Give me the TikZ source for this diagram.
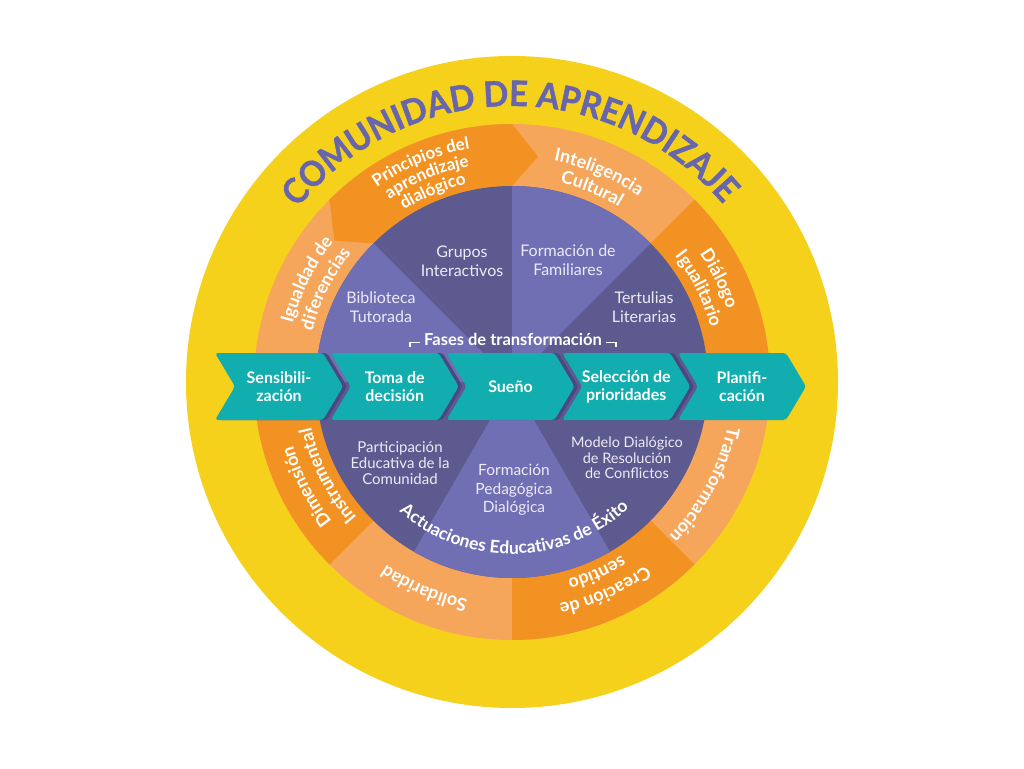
\documentclass[tikz,border=0pt]{standalone}
\usepackage{fontspec}
\setmainfont{Lato}
\newfontfamily\titlefont{Lato}[FakeStretch=0.93, BoldFeatures={FakeBold=1.2}]
\usetikzlibrary{decorations.text}
\definecolor{cyellow}{HTML}{F5D11C}
\definecolor{corD}{HTML}{F29223}
\definecolor{corL}{HTML}{F5A65A}
\definecolor{cpuD}{HTML}{5C5A8F}
\definecolor{cpuL}{HTML}{716FB3}
\definecolor{cteal}{HTML}{12ADAE}
\definecolor{ctitle}{HTML}{6765AE}
\definecolor{cinner}{HTML}{ECEAF6}
\definecolor{cshadow}{HTML}{4B4880}
\tikzset{
  innertxt/.style={text=cinner, align=center, inner sep=0pt, font=\fontsize{16}{19}\selectfont},
  innersm/.style={text=cinner, align=center, inner sep=0pt},
  chevtxt/.style={text=white, align=center, inner sep=0pt, font=\fontsize{16}{18}\selectfont\bfseries},
  brk/.style={white, line width=1.6pt},
}
\newcommand\ringlbl[4][18]{%
  \path[decorate,decoration={text along path,
     text={|\fontsize{#1}{#1}\selectfont\bfseries|#4},
     text align=center, text color=white}]
     ({#2+50}:#3) arc[start angle={#2+50}, end angle={#2-50}, radius=#3];}
\newcommand\chevshape[2]{%
  \fill[#2, rounded corners=3pt] (#1,29) -- ({#1+108},29) -- ({#1+128},-4.5) -- ({#1+108},-38) -- (#1,-38) -- ({#1+20},-4.5) -- cycle;}
\begin{document}
\begin{tikzpicture}[x=1pt,y=1pt]
\useasboundingbox (-512,-386) rectangle (512,382);
\fill[white] (-512,-386) rectangle (512,382);
% outer rings
\fill[cyellow] (0,0) circle[radius=326];
\fill[corL] (0,0) circle[radius=258];
\fill[corD] (0,0) -- (45:258) arc[start angle=45, end angle=0, radius=258] -- cycle;
\fill[corD] (0,0) -- (-45:258) arc[start angle=-45, end angle=-90, radius=258] -- cycle;
\fill[corD] (0,0) -- (-135:258) arc[start angle=-135, end angle=-180, radius=258] -- cycle;
\fill[corD] (135:258) arc[start angle=135, end angle=90, radius=258] -- (83.4:227) -- (90:196) -- (0,0) -- (135:196) -- (141.5:227) -- cycle;
% purple disc
\fill[cpuD] (0,0) circle[radius=196];
\fill[cpuL] (0,0) -- (180:196) arc[start angle=180, end angle=135, radius=196] -- cycle;
\fill[cpuL] (0,0) -- (90:196) arc[start angle=90, end angle=45, radius=196] -- cycle;
\fill[cpuL] (0,0) -- (240:196) arc[start angle=240, end angle=300, radius=196] -- cycle;
% chevrons
\foreach \i in {0,1,2,3}{
  \pgfmathsetmacro\L{-297+\i*115.75+4}
  \chevshape{\L}{cshadow}
}
\foreach \i in {0,...,4}{
  \pgfmathsetmacro\L{-297+\i*115.75}
  \chevshape{\L}{cteal}
}
\node[chevtxt] (c1) at (-233,-5) {Sensibili-\\zación};
\node[chevtxt] (c2) at ({-233+115.75},-5) {Toma de\\decisión};
\node[chevtxt] (c3) at ({-233+2*115.75},-5) {Sueño};
\node[chevtxt] (c4) at ({-233+3*115.75},-5) {Selección de\\prioridades};
\node[chevtxt] (c5) at ({-233+4*115.75},-5) {Planifi-\\cación};
% fases
\node[text=white, inner sep=0pt, font=\fontsize{16.5}{18}\selectfont\bfseries] (fases) at (1,43) {Fases de transformación};
\draw[brk] ([xshift=-4pt,yshift=-3.5pt]fases.west) -- ++(-10,0) -- ++(0,-4);
\draw[brk] ([xshift=4pt,yshift=-3.5pt]fases.east) -- ++(10,0) -- ++(0,-4);
% inner texts
\node[innertxt] (gi) at (-50,121) {Grupos\\Interactivos};
\node[innertxt] (ff) at (56,122) {Formación de\\Familiares};
\node[innertxt] (bt) at (-131,75) {Biblioteca\\Tutorada};
\node[innertxt] (tl) at (132,75) {Tertulias\\Literarias};
\node[innersm, font=\fontsize{15}{16}\selectfont] (pe) at (-112,-81) {Participación\\Educativa de la\\Comunidad};
\node[innersm, font=\fontsize{15.5}{18.5}\selectfont] (fp) at (2,-108) {Formación\\Pedagógica\\Dialógica};
\node[innersm, font=\fontsize{14.5}{15.5}\selectfont] (md) at (115,-76) {Modelo Dialógico\\de Resolución\\de Conflictos};
% curved texts
\path[decorate,decoration={text along path,
   text={|\fontsize{35}{35}\selectfont\titlefont\bfseries|COMUNIDAD DE APRENDIZAJE},
   text align=center, text color=ctitle}]
   (155.5:276) arc[start angle=155.5, end angle=25.5, radius=276];
\path[decorate,decoration={text along path,
   text={|\fontsize{17.5}{17.5}\selectfont\bfseries|Actuaciones Educativas de Éxito},
   text align=center, text color=white}]
   (225:172) arc[start angle=225, end angle=317, radius=172];
% ring labels
\ringlbl[17]{112.5}{237}{Principios del}
\ringlbl[17]{112.5}{220}{aprendizaje}
\ringlbl[17]{112.5}{203}{dialógico}
\ringlbl{67.5}{225}{Inteligencia}
\ringlbl{67.5}{205}{Cultural}
\ringlbl{26.5}{227}{Diálogo}
\ringlbl{26.5}{206}{Igualitario}
\ringlbl{153.5}{227}{Igualdad de}
\ringlbl{153.5}{206}{diferencias}
\ringlbl{207}{228}{Dimensión}
\ringlbl{207}{206}{Instrumental}
\ringlbl{247}{222}{Solidaridad}
\ringlbl{294}{227}{Creación de}
\ringlbl{294}{205}{sentido}
\ringlbl{332}{220}{Transformación}
\end{tikzpicture}
\end{document}
